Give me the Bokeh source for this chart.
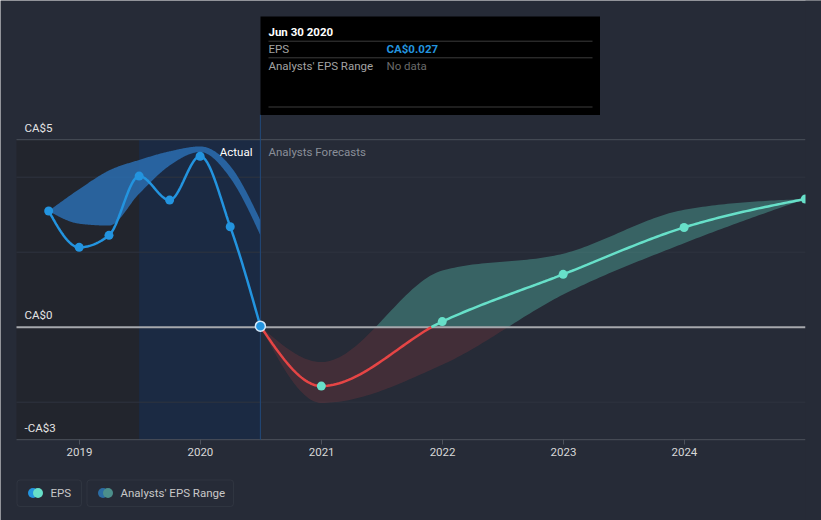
import numpy as np
import pandas as pd
from bokeh.plotting import figure
from bokeh.models import Range1d, FixedTicker, DatetimeTickFormatter, BoxAnnotation
from bokeh.core.properties import value
from bokeh.embed import file_html
from bokeh.resources import INLINE

# ---------------- data ----------------
actual_dates = ["2018-09-30", "2018-12-31", "2019-03-31", "2019-06-30",
                "2019-09-30", "2019-12-31", "2020-03-31", "2020-06-30"]
actual_eps = [3.10, 2.13, 2.45, 4.03, 3.39, 4.56, 2.68, 0.027]
actual_range_low = [3.10, 2.76, 2.71, 3.56, 4.31, 4.67, 3.98, 2.45]
actual_range_high = [3.10, 3.68, 4.18, 4.46, 4.69, 4.82, 4.30, 2.85]

forecast_dates = ["2020-06-30", "2020-12-31", "2021-12-31", "2022-12-31",
                  "2023-12-31", "2024-12-31"]
forecast_eps = [0.027, -1.57, 0.15, 1.41, 2.66, 3.42]
forecast_low = [0.027, -2.02, -1.00, 0.87, 2.24, 3.42]
forecast_high = [0.027, -0.93, 1.51, 1.96, 3.13, 3.42]

x_tick_years = [2019, 2020, 2021, 2022, 2023, 2024]
y_label_values = [5, 0, -3]
y_label_text = ["CA$5", "CA$0", "-CA$3"]
grid_values = [4, 2, -2]
past_shade_start = "2019-06-30"
last_actual_date = "2020-06-30"

# ---------------- helpers ----------------
FONT = value("Roboto")
BG = "#262b37"
BLUE = "#2394df"
TEAL = "#67e0c9"
RED = "#e64545"
W, H = 821, 520


def ms(d):
    return pd.Timestamp(d).value / 1e6


YEAR = 365.25 * 86400000.0
PX_PER_YEAR = 121.0
T2019 = ms("2019-01-01")
PX_PER_UNIT = 37.5
ZERO_Y = 326.7


def px_x(X):
    return T2019 + (X - 79.0) / PX_PER_YEAR * YEAR


def px_y(Y):
    return (ZERO_Y - Y) / PX_PER_UNIT


def monotone(x, y, n=40):
    """d3-style monotoneX curve for drawing smooth lines through the points"""
    x = np.asarray(x, float)
    y = np.asarray(y, float)
    h = np.diff(x)
    s = np.diff(y) / h
    m = np.zeros_like(y)
    for i in range(1, len(x) - 1):
        h0, h1, s0, s1 = h[i - 1], h[i], s[i - 1], s[i]
        pp = (s0 * h1 + s1 * h0) / (h0 + h1)
        m[i] = (np.sign(s0) + np.sign(s1)) * min(abs(s0), abs(s1), 0.5 * abs(pp))
    m[0] = (3 * s[0] - m[1]) / 2
    m[-1] = (3 * s[-1] - m[-2]) / 2
    xs, ys = [], []
    for i in range(len(x) - 1):
        t = np.linspace(0, 1, n, endpoint=(i == len(x) - 2))
        h00 = 2 * t**3 - 3 * t**2 + 1
        h10 = t**3 - 2 * t**2 + t
        h01 = -2 * t**3 + 3 * t**2
        h11 = t**3 - t**2
        xs.append(x[i] + t * h[i])
        ys.append(h00 * y[i] + h10 * h[i] * m[i] + h01 * y[i + 1] + h11 * h[i] * m[i + 1])
    return np.concatenate(xs), np.concatenate(ys)


ax = np.array([ms(d) for d in actual_dates])
fx = np.array([ms(d) for d in forecast_dates])

p = figure(width=W, height=H, x_axis_type="datetime", y_axis_location=None,
           toolbar_location=None, output_backend="svg", title=None,
           min_border_left=0, min_border_right=0, min_border_top=0, min_border_bottom=0,
           x_range=Range1d(px_x(0), px_x(W)), y_range=Range1d(px_y(H), px_y(0)),
           background_fill_color=BG, border_fill_color=BG, outline_line_color=None)
p.grid.visible = False

x_left = px_x(16)
x_right = px_x(805)

# axis placed at -3 (line drawn separately so that it stops at the chart edges)
p.xaxis.fixed_location = -3
p.xaxis.ticker = FixedTicker(ticks=[ms(f"{yr}-01-01") for yr in x_tick_years])
p.xaxis.formatter = DatetimeTickFormatter(years="%Y", months="%Y", days="%Y")
p.xaxis.axis_line_color = None
p.xaxis.major_tick_line_color = "#4d525c"
p.xaxis.minor_tick_line_color = None
p.xaxis.major_tick_out = 5
p.xaxis.major_tick_in = 0
p.xaxis.major_label_standoff = 3
p.xaxis.major_label_text_color = "#d8d8d8"
p.xaxis.major_label_text_font = "Roboto"
p.xaxis.major_label_text_font_size = "11.5px"

# shaded past regions
p.quad(left=[x_left], right=[ms(past_shade_start)], bottom=[-3], top=[5],
       fill_color="#22252d", line_color=None)
p.quad(left=[ms(past_shade_start)], right=[ms(last_actual_date)], bottom=[-3], top=[5],
       fill_color="#1b2a43", line_color=None)

# grid lines
p.segment(x0=[x_left] * len(grid_values), x1=[x_right] * len(grid_values),
          y0=grid_values, y1=grid_values, line_color="#2f343f", line_width=1)
p.segment(x0=[x_left], x1=[x_right], y0=[y_label_values[0]], y1=[y_label_values[0]],
          line_color="#4b505b", line_width=1)
p.segment(x0=[x_left], x1=[x_right], y0=[y_label_values[-1]], y1=[y_label_values[-1]],
          line_color="#4d525c", line_width=1)

# past analyst band
bx, blo = monotone(ax, actual_range_low)
_, bhi = monotone(ax, actual_range_high)
p.varea(x=bx, y1=blo, y2=bhi, fill_color="#2a6db0", fill_alpha=0.85)

# forecast band split at 0
gx, glo = monotone(fx, forecast_low)
_, ghi = monotone(fx, forecast_high)
p.varea(x=gx, y1=np.minimum(glo, 0), y2=np.minimum(ghi, 0), fill_color=RED, fill_alpha=0.15)
p.varea(x=gx, y1=np.maximum(glo, 0), y2=np.maximum(ghi, 0), fill_color="#64e3cc", fill_alpha=0.3)

# zero line
p.segment(x0=[x_left], x1=[x_right], y0=[0], y1=[0], line_color="#a6a8ad", line_width=2)

# vertical marker line at last actual
p.segment(x0=[ms(last_actual_date)], x1=[ms(last_actual_date)], y0=[-3], y1=[px_y(114)],
          line_color="#21497a", line_width=1)

# actual EPS line
lx, ly = monotone(ax, actual_eps)
p.line(lx, ly, line_color=BLUE, line_width=2.5)

# forecast line red/teal
cx, cy = monotone(fx, forecast_eps)
neg = np.where(cy < 0)[0]
k = neg[-1] + 1
x0c = cx[k - 1] + (cx[k] - cx[k - 1]) * (0 - cy[k - 1]) / (cy[k] - cy[k - 1])
rx = np.append(cx[:k], x0c)
ry = np.append(cy[:k], 0.0)
tx = np.insert(cx[k:], 0, x0c)
ty = np.insert(cy[k:], 0, 0.0)
p.line(rx, ry, line_color=RED, line_width=2.5)
p.line(tx, ty, line_color=TEAL, line_width=2.5)

# markers
p.scatter(ax[:-1], actual_eps[:-1], size=9, fill_color=BLUE, line_color=None)
p.scatter(fx[1:], forecast_eps[1:], size=9, fill_color=TEAL, line_color=None)
p.scatter(ax[-1:], actual_eps[-1:], size=10, fill_color=BLUE, line_color="#d3e9fb", line_width=1.5)

# clip strip at the right edge of the chart area
p.quad(left=[x_right], right=[px_x(W)], bottom=[px_y(H)], top=[px_y(0)],
       fill_color=BG, line_color=None)


def txt(x, y, s, color, size="11.5px", align="left", baseline="middle", style="normal"):
    p.text(x=[x], y=[y], text=[s], text_color=color, text_font=FONT, text_font_size=size,
           text_align=align, text_baseline=baseline, text_font_style=style)


# y labels
for v, s in zip(y_label_values, y_label_text):
    txt(px_x(24), v + 12 / PX_PER_UNIT, s, "#e4e4e4", baseline="middle")

# Actual / Forecast labels
txt(px_x(252), px_y(151), "Actual", "#ffffff", align="right")
txt(px_x(268), px_y(151), "Analysts Forecasts", "#8a8f99")

# tooltip box
p.quad(left=[px_x(260)], right=[px_x(599.5)], bottom=[px_y(114.5)], top=[px_y(16)],
       fill_color="#000000", line_color=None)
for Y in [40.7, 57.3, 106.5]:
    p.segment(x0=[px_x(268)], x1=[px_x(592)], y0=[px_y(Y)], y1=[px_y(Y)],
              line_color="#3c3c3c", line_width=1)
txt(px_x(268), px_y(31), "Jun 30 2020", "#ffffff", style="bold")
txt(px_x(268), px_y(48.5), "EPS", "#a3a3a3")
txt(px_x(386), px_y(48.5), "CA$0.027", BLUE, style="bold")
txt(px_x(268), px_y(65), "Analysts' EPS Range", "#a3a3a3")
txt(px_x(386), px_y(65), "No data", "#6a6a6a")

# legend
for L, R in [(16.5, 81), (86.5, 233)]:
    p.add_layout(BoxAnnotation(left=px_x(L), right=px_x(R), bottom=px_y(506), top=px_y(479.5),
                               fill_alpha=0, line_color="#474c57", line_width=1, border_radius=3))
p.scatter([px_x(32.5)], [px_y(492.5)], size=10, fill_color=BLUE, line_color=None)
p.scatter([px_x(37.5)], [px_y(492.5)], size=10, fill_color=TEAL, line_color=None)
txt(px_x(50), px_y(492.5), "EPS", "#c8c8c8")
p.scatter([px_x(102.5)], [px_y(492.5)], size=10, fill_color="#2b6ca3", line_color=None)
p.scatter([px_x(107.5)], [px_y(492.5)], size=10, fill_color="#4c8f8b", line_color=None)
txt(px_x(120), px_y(492.5), "Analysts' EPS Range", "#c8c8c8")

open("out.html", "w").write(file_html(p, INLINE))
